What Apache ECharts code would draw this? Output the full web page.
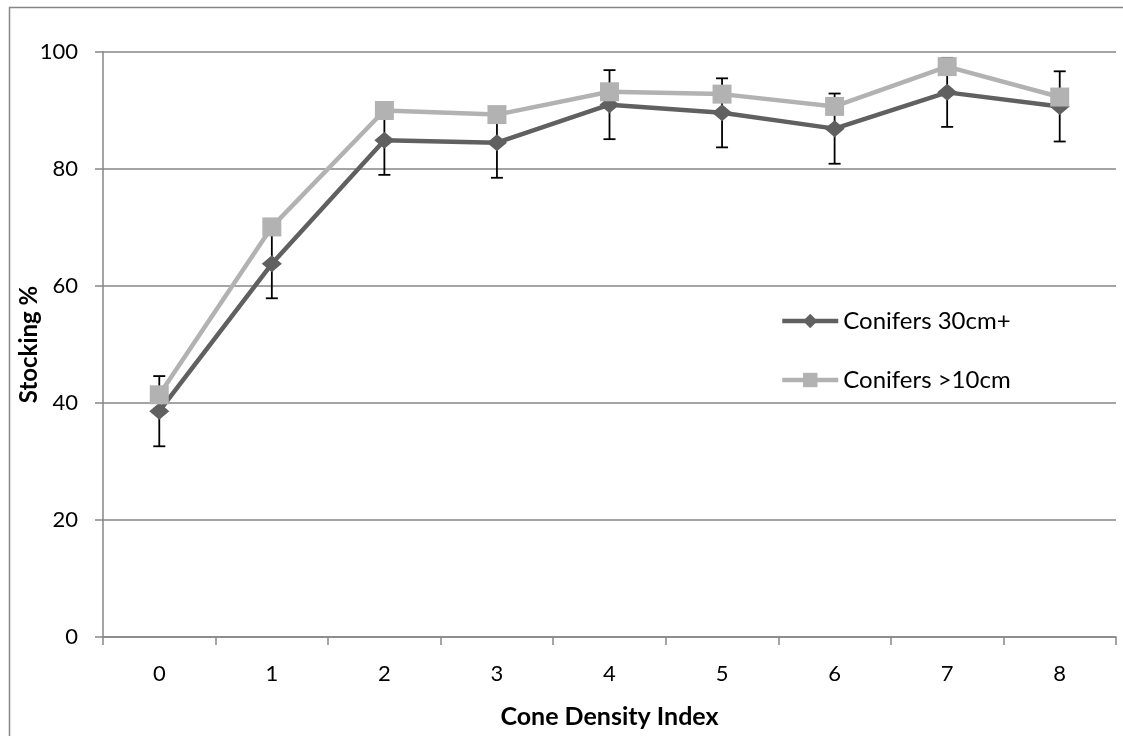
<!DOCTYPE html>
<html>
<head>
<meta charset="utf-8">
<script src="https://cdn.jsdelivr.net/npm/echarts@6/dist/echarts.min.js"></script>
<style>
html,body{margin:0;padding:0;background:#fff;}
#c{width:1123px;height:736px;}
</style>
</head>
<body>
<div id="c"></div>
<script>
const categories = ['0','1','2','3','4','5','6','7','8'];
const conifers30 = [38.6, 63.8, 84.9, 84.5, 91.0, 89.6, 86.9, 93.1, 90.7];
const conifers10 = [41.4, 70.1, 90.0, 89.3, 93.2, 92.8, 90.7, 97.5, 92.3];
const errors30 = [6.0, 5.9, 5.9, 6.0, 5.9, 5.9, 6.0, 5.9, 6.0];
const yTicks = [0, 20, 40, 60, 80, 100];

const FONT = 'Lato';
const DARK = '#606060';
const LIGHT = '#b2b2b2';
const chart = echarts.init(document.getElementById('c'), null, {renderer: 'canvas'});

const errData = categories.map((c, i) => [i, conifers30[i] - errors30[i], conifers30[i] + errors30[i]]);

chart.setOption({
  backgroundColor: '#fff',
  animation: false,
  textStyle: {fontFamily: FONT},
  graphic: [{
    type: 'rect', left: 7, top: 5, silent: true, z: -10,
    shape: {x: 0, y: 0, width: 1130, height: 740},
    style: {fill: 'none', stroke: '#868686', lineWidth: 1.5}
  }],
  grid: {left: 103, right: 7, top: 52, bottom: 99, containLabel: false, outerBoundsMode: 'none'},
  legend: {
    orient: 'vertical', left: 775, top: 304,
    itemWidth: 56, itemHeight: 18, itemGap: 35,
    textStyle: {fontFamily: FONT, fontSize: 24, color: '#000'},
    data: [
      {name: 'Conifers 30cm+', lineStyle: {width: 4.5, color: DARK}},
      {name: 'Conifers >10cm', lineStyle: {width: 4.5, color: LIGHT}}
    ]
  },
  xAxis: {
    type: 'category', data: categories, boundaryGap: true,
    name: 'Cone Density Index', nameLocation: 'middle', nameGap: 67, nameMoveOverlap: false,
    nameTextStyle: {fontFamily: FONT, fontWeight: 'bold', fontSize: 25, color: '#000'},
    axisLine: {lineStyle: {color: '#868686', width: 1.5}},
    axisTick: {show: true, length: 8, alignWithLabel: false, lineStyle: {color: '#868686', width: 1.5}},
    axisLabel: {fontFamily: FONT, fontSize: 22, color: '#000', margin: 26},
    splitLine: {show: false}
  },
  yAxis: {
    type: 'value', min: 0, max: 100, interval: 20,
    name: 'Stocking %', nameLocation: 'middle', nameGap: 62, nameRotate: 90, nameMoveOverlap: false,
    nameTextStyle: {fontFamily: FONT, fontWeight: 'bold', fontSize: 24, color: '#000'},
    axisLine: {show: true, lineStyle: {color: '#868686', width: 1.5}},
    axisTick: {show: true, length: 8, lineStyle: {color: '#868686', width: 1.5}},
    axisLabel: {fontFamily: FONT, fontSize: 22, color: '#000', margin: 25,
      formatter: v => yTicks.includes(v) ? String(v) : ''},
    splitLine: {show: true, lineStyle: {color: '#868686', width: 1.5}}
  },
  series: [
    {
      type: 'custom', name: 'err', z: 1, silent: true,
      data: errData,
      renderItem: function (params, api) {
        const x = api.value(0);
        const lo = api.coord([x, api.value(1)]);
        const hi = api.coord([x, api.value(2)]);
        const w = 6;
        const st = {stroke: '#000', lineWidth: 1.8};
        return {type: 'group', children: [
          {type: 'line', shape: {x1: lo[0], y1: lo[1], x2: hi[0], y2: hi[1]}, style: st},
          {type: 'line', shape: {x1: lo[0] - w, y1: lo[1], x2: lo[0] + w, y2: lo[1]}, style: st},
          {type: 'line', shape: {x1: hi[0] - w, y1: hi[1], x2: hi[0] + w, y2: hi[1]}, style: st}
        ]};
      }
    },
    {
      type: 'line', name: 'Conifers 30cm+', z: 2, data: conifers30,
      symbol: 'diamond', symbolSize: [20, 17], showAllSymbol: true,
      lineStyle: {color: DARK, width: 4.5},
      itemStyle: {color: DARK}
    },
    {
      type: 'line', name: 'Conifers >10cm', z: 3, data: conifers10,
      symbol: 'rect', symbolSize: 19, showAllSymbol: true,
      lineStyle: {color: LIGHT, width: 4.5},
      itemStyle: {color: LIGHT}
    }
  ]
});
</script>
</body>
</html>
